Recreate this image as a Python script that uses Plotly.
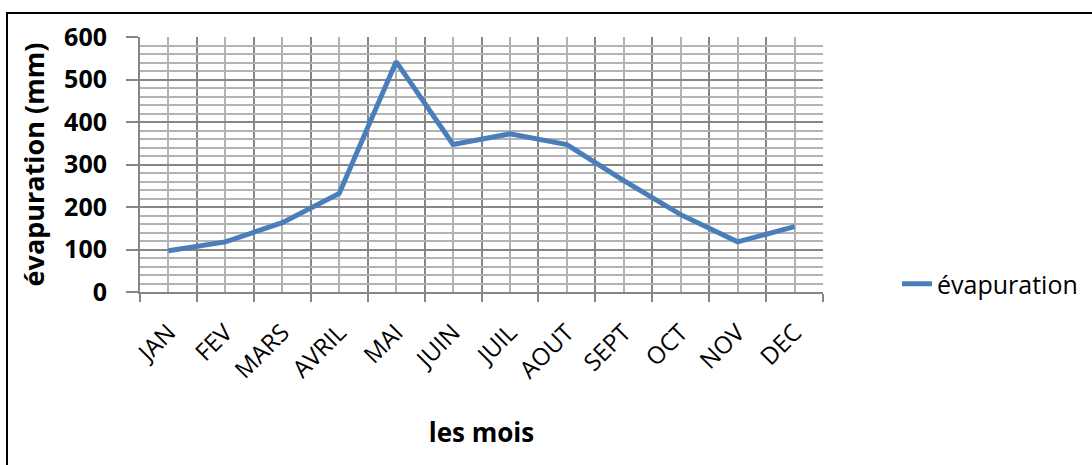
import plotly.graph_objects as go

months = ["JAN", "FEV", "MARS", "AVRIL", "MAI", "JUIN", "JUIL", "AOUT", "SEPT", "OCT", "NOV", "DEC"]
evaporation = [97, 118, 163, 232, 542, 347, 372, 347, 262, 182, 118, 154]
y_ticks = [0, 100, 200, 300, 400, 500, 600]
series_name = "évapuration"
x_title = "les mois"
y_title = "évapuration (mm)"

xpos = list(range(len(months)))

FONT = "'Open Sans', Lato, sans-serif"

fig = go.Figure()
fig.add_trace(go.Scatter(
    x=xpos, y=evaporation, mode="lines", name=series_name,
    line=dict(color="#4a7ebb", width=5),
))

L, R, T, B = 140, 269, 37, 173
W, H = 1092, 465
pw, ph = W - L - R, H - T - B

fig.update_layout(
    width=W, height=H,
    margin=dict(l=L, r=R, t=T, b=B, autoexpand=False),
    paper_bgcolor="white", plot_bgcolor="white",
    font=dict(family=FONT, color="black"),
    showlegend=True,
    legend=dict(
        x=(897 - L) / pw, y=(292 - 284) / ph, xanchor="left", yanchor="middle",
        font=dict(size=25, family=FONT, color="black"),
        bgcolor="rgba(0,0,0,0)",
    ),
    xaxis=dict(
        range=[-0.5, len(months) - 0.5],
        tickmode="array", tickvals=xpos, ticktext=months,
        tickangle=-45,
        tickfont=dict(size=24, family=FONT, color="black"),
        ticks="", ticklabelstandoff=15,
        showgrid=True, gridcolor="#b3b3b3", gridwidth=2,
        showline=True, linecolor="#868686", linewidth=2,
        minor=dict(tickmode="linear", tick0=-0.5, dtick=1, ticks="outside",
                   ticklen=8, tickwidth=2, tickcolor="#868686",
                   showgrid=True, gridcolor="#868686", gridwidth=2),
        zeroline=False,
        title=dict(text=x_title, font=dict(size=26, family=FONT, color="black", weight="bold"),
                   standoff=40),
    ),
    yaxis=dict(
        range=[0, 600],
        tickmode="array", tickvals=y_ticks,
        tickfont=dict(size=25, family=FONT, color="black", weight="bold"),
        ticks="outside", ticklen=12, tickwidth=2, tickcolor="#868686",
        ticklabelstandoff=14,
        showgrid=True, gridcolor="#868686", gridwidth=2,
        showline=True, linecolor="#868686", linewidth=2,
        minor=dict(tickmode="linear", tick0=0, dtick=20, showgrid=True,
                   gridcolor="#b3b3b3", gridwidth=2),
        zeroline=False,
        title=dict(text=y_title, font=dict(size=27, family=FONT, color="black", weight="bold"),
                   standoff=12),
    ),
    shapes=[dict(
        type="rect", xref="paper", yref="paper",
        x0=(7 - L) / pw, x1=(1096 - L) / pw,
        y0=-(468 - (H - B)) / ph, y1=1 + (T - 13) / ph,
        line=dict(color="black", width=2), fillcolor="rgba(0,0,0,0)", layer="below",
    )],
)

fig.write_html("out.html", config={"displayModeBar": False},
               post_script="document.body.style.margin='0';")
